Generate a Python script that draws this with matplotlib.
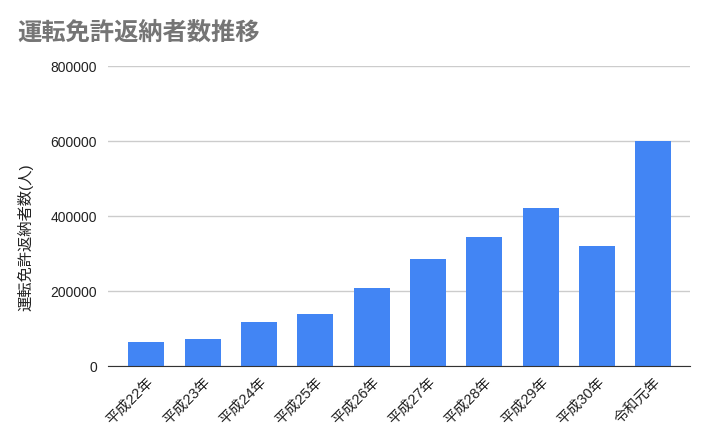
import matplotlib
matplotlib.use("Agg")
import matplotlib.pyplot as plt

# Data
years = ["平成22年", "平成23年", "平成24年", "平成25年", "平成26年",
         "平成27年", "平成28年", "平成29年", "平成30年", "令和元年"]
returns = [64000, 70500, 115500, 138000, 207000,
           284000, 344000, 420500, 319500, 599500]
y_ticks = [0, 200000, 400000, 600000, 800000]

plt.rcParams["font.family"] = ["Liberation Sans", "Noto Sans CJK JP"]

fig = plt.figure(figsize=(7.1, 4.39), dpi=100)
ax = fig.add_axes([0.1526, 0.1647, 0.8192, 0.6833])

x = range(len(years))
ax.bar(x, returns, width=0.64, color="#4285f4", zorder=3)

ax.set_xlim(-0.675, len(years) - 1 + 0.65)
ax.set_ylim(0, 800000)
ax.set_yticks(y_ticks)
ax.set_yticklabels([str(v) for v in y_ticks], fontsize=10, color="#222222")
ax.set_xticks(list(x))
ax.set_xticklabels(years, rotation=45, ha="right", rotation_mode="anchor",
                   fontsize=10.5, color="#222222")

ax.grid(axis="y", color="#cccccc", linewidth=1, zorder=0)
for side in ["top", "right", "left"]:
    ax.spines[side].set_visible(False)
ax.spines["bottom"].set_color("#333333")
ax.spines["bottom"].set_zorder(4)
ax.tick_params(axis="y", length=0, pad=8)
ax.tick_params(axis="x", length=0, pad=6)

# y-axis title placed by hand so it sits where the reference has it
fig.text(25 / 710, 0.46, "運転免許返納者数(人)", fontsize=11, color="#222222",
         rotation=90, ha="center", va="center")

fig.text(0.025, 0.925, "運転免許返納者数推移", fontsize=17.5, fontweight="bold",
         color="#757575", va="center")

fig.savefig("out.png", dpi=100)
